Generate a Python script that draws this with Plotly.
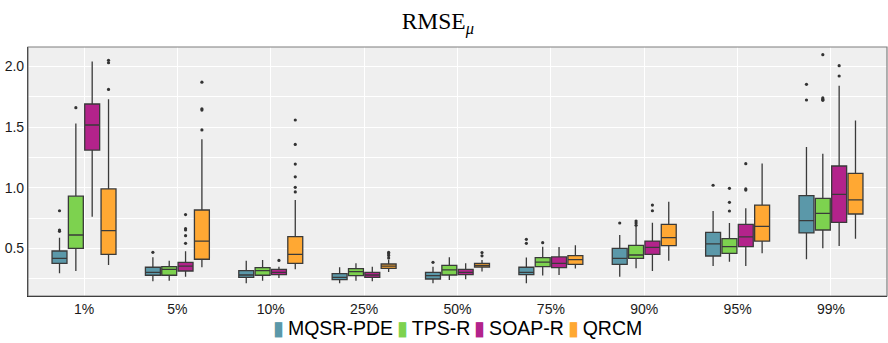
import plotly.graph_objects as go

categories = ["1%", "5%", "10%", "25%", "50%", "75%", "90%", "95%", "99%"]
series_names = ["MQSR-PDE", "TPS-R", "SOAP-R", "QRCM"]
colors = ["#5b98a9", "#7dd24f", "#b3238b", "#ffa833"]

# per-series stats across categories: lower whisker, q1, median, q3, upper whisker
mqsr_low = [0.294, 0.228, 0.212, 0.212, 0.212, 0.212, 0.266, 0.354, 0.410]
mqsr_q1 = [0.376, 0.278, 0.261, 0.242, 0.247, 0.283, 0.368, 0.437, 0.627]
mqsr_med = [0.418, 0.302, 0.280, 0.261, 0.275, 0.302, 0.418, 0.536, 0.728]
mqsr_q3 = [0.478, 0.344, 0.316, 0.291, 0.302, 0.344, 0.500, 0.632, 0.934]
mqsr_up = [0.588, 0.426, 0.398, 0.344, 0.349, 0.424, 0.610, 0.808, 1.336]
mqsr_out = [[0.64, 0.651, 0.81], [0.467], [], [], [0.385], [0.541, 0.574], [0.709], [1.02], [1.723, 1.852]]

tps_low = [0.313, 0.233, 0.233, 0.233, 0.239, 0.275, 0.335, 0.390, 0.500]
tps_q1 = [0.500, 0.278, 0.278, 0.275, 0.280, 0.349, 0.418, 0.459, 0.651]
tps_med = [0.610, 0.327, 0.316, 0.308, 0.322, 0.387, 0.445, 0.514, 0.789]
tps_q3 = [0.930, 0.349, 0.341, 0.333, 0.360, 0.424, 0.525, 0.580, 0.912]
tps_up = [1.530, 0.398, 0.404, 0.376, 0.426, 0.514, 0.680, 0.709, 1.280]
tps_out = [[1.66], [], [], [], [], [0.547], [0.69, 0.709, 0.725], [0.808, 0.879, 0.995], [1.72, 1.73, 1.74, 2.097]]

soap_low = [0.760, 0.266, 0.256, 0.228, 0.245, 0.280, 0.313, 0.354, 0.520]
soap_q1 = [1.310, 0.313, 0.283, 0.261, 0.283, 0.341, 0.450, 0.514, 0.714]
soap_med = [1.517, 0.354, 0.302, 0.280, 0.302, 0.376, 0.508, 0.594, 0.945]
soap_q3 = [1.690, 0.385, 0.327, 0.302, 0.327, 0.429, 0.560, 0.698, 1.179]
soap_up = [2.040, 0.475, 0.349, 0.349, 0.376, 0.511, 0.711, 0.830, 1.841]
soap_out = [[], [0.541, 0.604, 0.651, 0.662, 0.778], [0.40], [], [], [], [0.81, 0.857], [0.98, 0.99, 1.198], [1.921, 2.006]]

qrcm_low = [0.363, 0.344, 0.327, 0.305, 0.308, 0.333, 0.398, 0.459, 0.580]
qrcm_q1 = [0.450, 0.410, 0.376, 0.335, 0.346, 0.368, 0.522, 0.560, 0.783]
qrcm_med = [0.646, 0.560, 0.450, 0.354, 0.360, 0.407, 0.588, 0.681, 0.899]
qrcm_q3 = [0.990, 0.816, 0.596, 0.371, 0.376, 0.440, 0.698, 0.857, 1.118]
qrcm_up = [1.730, 1.399, 0.899, 0.404, 0.404, 0.525, 0.885, 1.200, 1.553]
qrcm_out = [[1.81, 2.03, 2.05], [1.476, 1.64, 1.65, 1.87], [0.965, 1.003, 1.09, 1.195, 1.357, 1.558],
            [0.42, 0.44, 0.455, 0.467], [0.438, 0.465], [], [], [], []]

stats = [
    (mqsr_low, mqsr_q1, mqsr_med, mqsr_q3, mqsr_up, mqsr_out),
    (tps_low, tps_q1, tps_med, tps_q3, tps_up, tps_out),
    (soap_low, soap_q1, soap_med, soap_q3, soap_up, soap_out),
    (qrcm_low, qrcm_q1, qrcm_med, qrcm_q3, qrcm_up, qrcm_out),
]

slot = 0.175
box_w = 0.16
fig = go.Figure()
for s, (name, col, st) in enumerate(zip(series_names, colors, stats)):
    low, q1, med, q3, up, outs = st
    off = (s - 1.5) * slot
    xs = [i + off for i in range(len(categories))]
    fig.add_trace(go.Box(
        x=xs, q1=q1, median=med, q3=q3, lowerfence=low, upperfence=up,
        name=name, fillcolor=col, width=box_w, whiskerwidth=0,
        line=dict(color="#3a3a3a", width=1.3), boxpoints=False,
        hoverinfo="skip", showlegend=False,
    ))
    ox, oy = [], []
    for i, vals in enumerate(outs):
        for v in vals:
            ox.append(i + off)
            oy.append(v)
    fig.add_trace(go.Scatter(
        x=ox, y=oy, mode="markers", showlegend=False,
        marker=dict(size=3.2, color="#333333"), hoverinfo="skip",
    ))

# compact legend as one text line with coloured box glyphs
thin = "\u2009"
legend_text = thin.join(
    f"<span style='color:{c}'>▮</span>{thin}{n}" for n, c in zip(series_names, colors)
)
fig.add_annotation(
    text=legend_text, xref="paper", yref="paper", x=0.5, y=-0.13,
    xanchor="center", yanchor="middle", showarrow=False,
    font=dict(family="Liberation Sans, Arial, sans-serif", size=19.5, color="black"),
)

fig.update_layout(
    width=888, height=343,
    margin=dict(l=28, r=1, t=47, b=47),
    paper_bgcolor="white", plot_bgcolor="#efefef",
    boxmode="overlay",
    title=dict(text="RMSE<sub><i>μ</i></sub>", x=0.493, xanchor="center", y=0.94, yanchor="middle",
               font=dict(family="Liberation Serif, DejaVu Serif, serif", size=23.5, color="black")),
    font=dict(family="Liberation Sans, Arial, sans-serif", color="#1a1a1a"),
    showlegend=False,
)
fig.update_xaxes(
    range=[-0.6, 8.6], tickvals=list(range(len(categories))), ticktext=categories,
    showgrid=True, gridcolor="white", gridwidth=1.2, zeroline=False,
    showline=True, linecolor="black", linewidth=1.2, ticks="",
    tickfont=dict(size=14, color="#1a1a1a"),
)
fig.update_yaxes(
    range=[0.107, 2.16], tick0=0, dtick=0.5, tickformat=".1f",
    showgrid=True, gridcolor="white", gridwidth=1.2, zeroline=False,
    minor=dict(dtick=0.25, tick0=0, showgrid=True, gridcolor="white", gridwidth=0.7),
    showline=True, linecolor="black", linewidth=1.2, ticks="",
    tickfont=dict(size=14, color="#1a1a1a"),
)
# panel border (gray top and right)
fig.add_shape(type="rect", xref="paper", yref="paper", x0=0, y0=0, x1=1, y1=1,
              line=dict(color="#7f7f7f", width=1.2), layer="above")
fig.write_html("out.html")
